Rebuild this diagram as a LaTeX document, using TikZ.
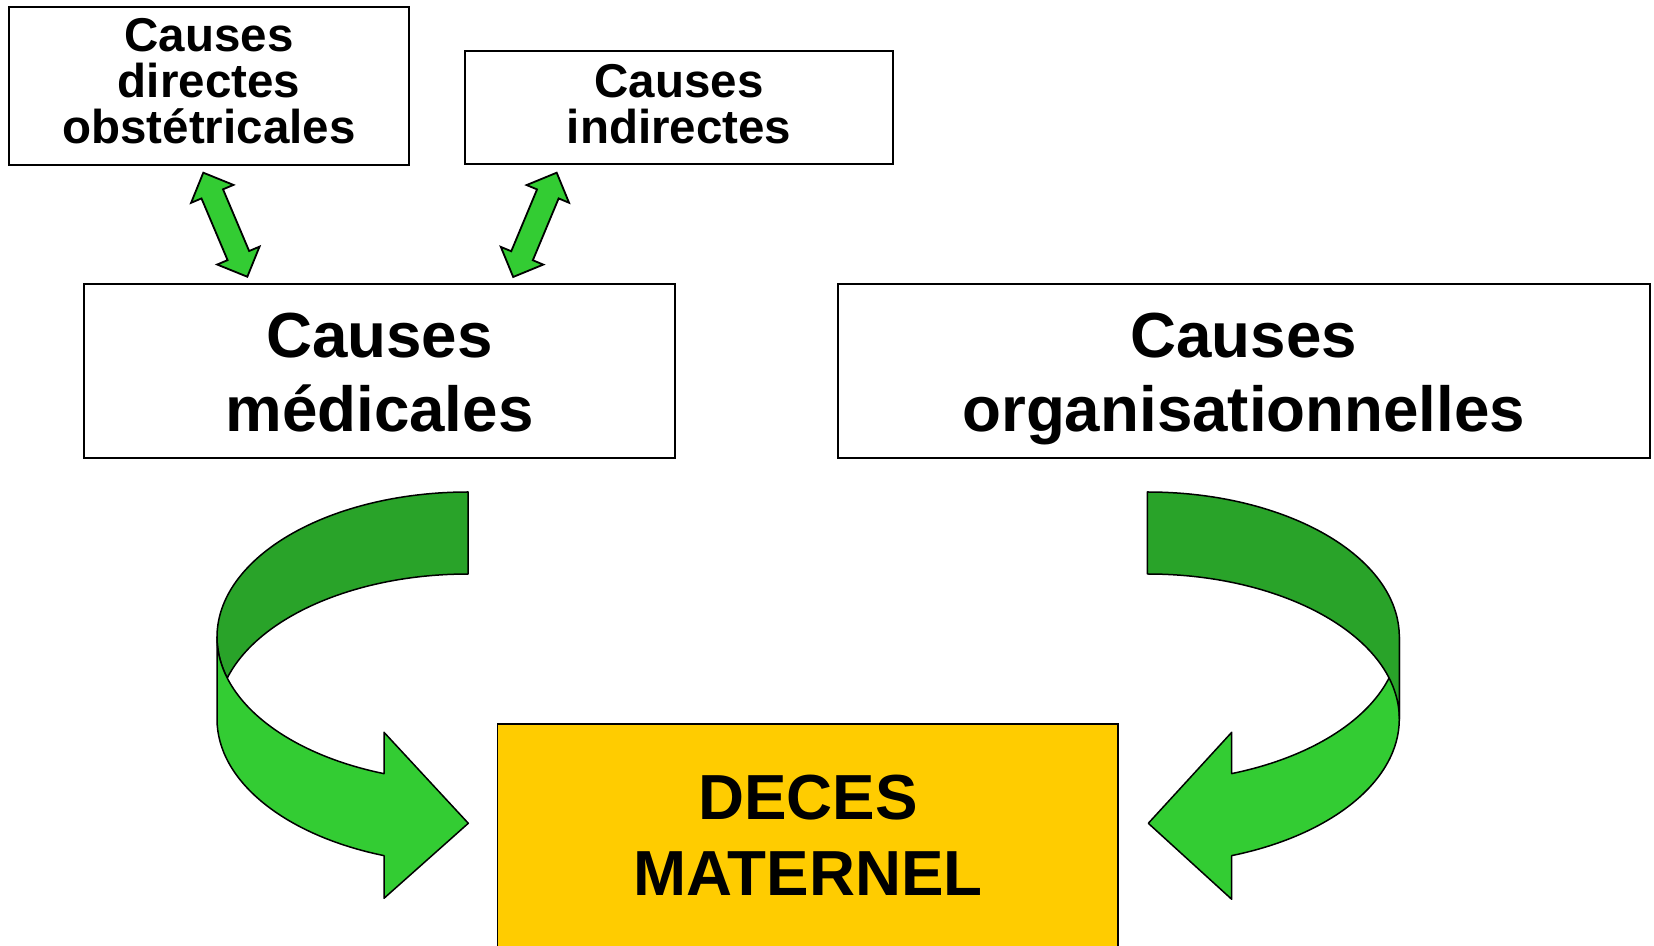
\documentclass[tikz,border=0pt]{standalone}
\usepackage{fontspec}
\setmainfont{Liberation Sans}
\definecolor{lgreen}{HTML}{33CC33}
\definecolor{dgreen}{HTML}{29A329}
\definecolor{gold}{HTML}{FFCC00}
\begin{document}
\begin{tikzpicture}[x=1pt,y=1pt,
  box/.style={draw=black, line width=2pt, fill=white, inner sep=0pt},
  goldbox/.style={draw=black, line width=1.5pt, fill=gold, inner sep=0pt},
  bigtxt/.style={font=\fontsize{63.7}{74}\selectfont\bfseries, align=center, text depth=0pt, inner sep=0pt},
  dectxt/.style={font=\fontsize{63.7}{76}\selectfont\bfseries, align=center, text depth=0pt, inner sep=0pt},
  smalltxt/.style={font=\fontsize{47.5}{46}\selectfont\bfseries, align=center, text depth=0pt, inner sep=0pt},
  lightarrow/.style={draw=black, line width=1.5pt, fill=lgreen, line join=round},
  darkarrow/.style={draw=black, line width=1.5pt, fill=dgreen, line join=round},
  dblarrow/.style={draw=black, line width=1.8pt, fill=lgreen, line join=miter}]
\clip (0,0) rectangle (1654,945);
\fill[white] (0,0) rectangle (1654,945);

% boxes
\node[box, minimum width=400pt, minimum height=158.3pt] (b1) at (209,859.15) {};
\node[smalltxt] (t1) at (209,864) {Causes\\directes\\obstétricales};
\node[box, minimum width=428pt, minimum height=113pt] (b2) at (679,837.5) {};
\node[smalltxt] (t2) at (679,841.5) {Causes\\indirectes};
\node[box, minimum width=591pt, minimum height=174pt] (b3) at (379.5,574) {};
\node[bigtxt] (t3) at (379.5,573) {Causes\\médicales};
\node[box, minimum width=812.5pt, minimum height=174pt] (b4) at (1243.75,574) {};
\node[bigtxt] (t4) at (1243.75,573) {Causes\\organisationnelles};

% double arrows
\coordinate (d1a) at (203.3,772.3);
\coordinate (d2a) at (556.7,772.3);
\draw[dblarrow, shift={(d1a)}, rotate=-67.07] (0,0) -- (23,23) -- (23,11.7) -- (90,11.7) -- (90,23) -- (113,0) -- (90,-23) -- (90,-11.7) -- (23,-11.7) -- (23,-23) -- cycle;
\draw[dblarrow, shift={(d2a)}, rotate=-112.65] (0,0) -- (23,23) -- (23,11.7) -- (90,11.7) -- (90,23) -- (113,0) -- (90,-23) -- (90,-11.7) -- (23,-11.7) -- (23,-23) -- cycle;

% left curved arrow
\draw[darkarrow] (468,453) arc[start angle=90, end angle=196.43, x radius=251pt, y radius=145pt]
  arc[start angle=163.57, end angle=90, x radius=251pt, y radius=145pt] -- cycle;
\draw[lightarrow] (217,308) -- (217,226) arc[start angle=180, end angle=250.45, x radius=251pt, y radius=145pt]
  -- (384,46.7) -- (468.3,121.7) -- (384,212.7) -- (384,171.35)
  arc[start angle=250.45, end angle=180, x radius=251pt, y radius=145pt] -- cycle;

% right curved arrow
\draw[lightarrow] (1399.3,308) -- (1399.3,226) arc[start angle=0, end angle=-70.43, x radius=252pt, y radius=145pt]
  -- (1231.7,45.7) -- (1148.3,121.7) -- (1231.7,212.7) -- (1231.7,171.4)
  arc[start angle=-70.43, end angle=0, x radius=252pt, y radius=145pt] -- cycle;
\draw[darkarrow] (1147.3,453) arc[start angle=90, end angle=0, x radius=252pt, y radius=145pt]
  -- (1399.3,226) arc[start angle=0, end angle=90, x radius=252pt, y radius=145pt] -- cycle;

% result box
\node[goldbox, minimum width=620.5pt, minimum height=241pt] (b5) at (807.75,100.5) {};
\node[dectxt] (t5) at (808,109.5) {DECES\\MATERNEL};
\end{tikzpicture}
\end{document}
